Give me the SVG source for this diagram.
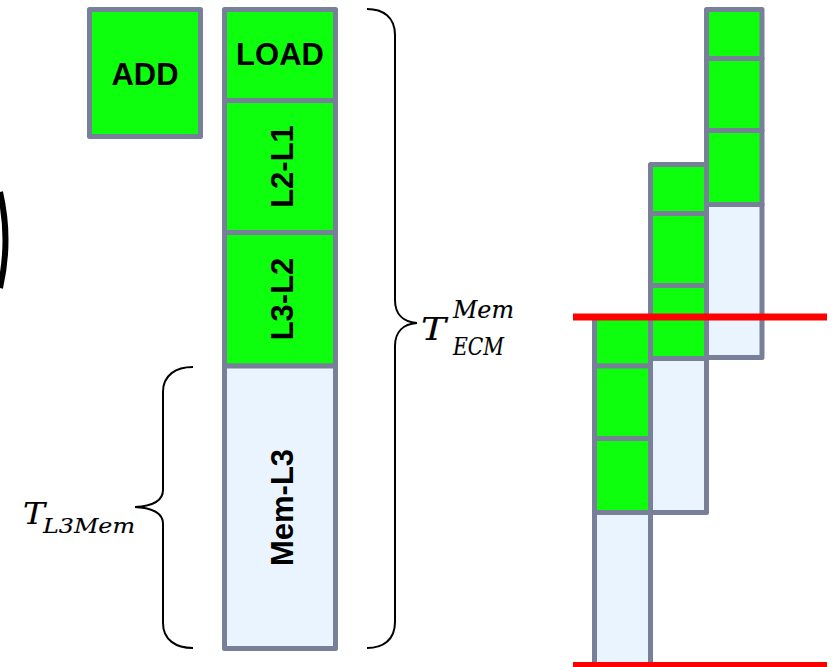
<svg xmlns="http://www.w3.org/2000/svg" width="837" height="667" viewBox="0 0 837 667">
<style>
.g{fill:#0EFF0E;stroke:#787F99;stroke-width:5;stroke-linejoin:round}
.b{fill:#EAF4FE;stroke:#787F99;stroke-width:5;stroke-linejoin:round}
.lbl{font-family:"Liberation Sans",Arial,sans-serif;font-weight:bold;font-size:31px;fill:#000;text-anchor:middle}
.brace{fill:none;stroke:#000;stroke-width:2}
.red{stroke:#FF0000;fill:none}
.math{font-family:"DejaVu Serif",serif;font-style:italic;fill:#000;stroke:#000;stroke-width:0.15}
</style>
<rect width="837" height="667" fill="#fff"/>
<path d="M0,192 Q11,240 0,288" fill="none" stroke="#000" stroke-width="6"/>
<g id="add"><rect class="g" x="89.5" y="9.5" width="111" height="127"/><text class="lbl" x="145" y="85">ADD</text></g>
<g id="load"><rect class="g" x="224.5" y="9.5" width="111" height="91"/><text class="lbl" x="280" y="65">LOAD</text></g>
<g id="l2l1"><rect class="g" x="224.5" y="100.5" width="111" height="132"/><text class="lbl" transform="translate(292.5,166.5) rotate(-90)">L2-L1</text></g>
<g id="l3l2"><rect class="g" x="224.5" y="232.5" width="111" height="133.5"/><text class="lbl" transform="translate(292.5,299) rotate(-90)">L3-L2</text></g>
<g id="meml3"><rect class="b" x="224.5" y="366" width="111" height="282.5"/><text class="lbl" transform="translate(292.5,507.5) rotate(-90)">Mem-L3</text></g>
<g id="col3">
<rect class="g" x="706.5" y="9.5" width="55.5" height="49"/>
<rect class="g" x="706.5" y="58.5" width="55.5" height="72"/>
<rect class="g" x="706.5" y="130.5" width="55.5" height="74"/>
<rect class="b" x="706.5" y="204.5" width="55.5" height="153"/>
</g>
<g id="col2">
<rect class="g" x="650.5" y="164.5" width="56" height="49"/>
<rect class="g" x="650.5" y="213.5" width="56" height="72"/>
<rect class="g" x="650.5" y="285.5" width="56" height="73"/>
<rect class="b" x="650.5" y="358.5" width="56" height="154"/>
</g>
<g id="col1">
<rect class="g" x="594.5" y="317" width="56" height="49"/>
<rect class="g" x="594.5" y="366" width="56" height="72.5"/>
<rect class="g" x="594.5" y="438.5" width="56" height="74"/>
<rect class="b" x="594.5" y="512.5" width="56" height="156"/>
</g>
<g id="connectors">
<path class="brace" d="M367,9 C383,9 395,17 395,35 L395,300 C395,314 403,322 417,323 C403,324 395,332 395,346 L395,622 C395,640 383,648 367,648"/>
<path class="brace" d="M193,367 C176,367 163,375 163,392 L163,490 C163,500 155,506 135,507 C155,508 163,514 163,524 L163,623 C163,640 176,648 193,648"/>
<line class="red" x1="573" y1="317" x2="827" y2="317" stroke-width="7"/>
<line class="red" x1="573" y1="664.5" x2="827" y2="664.5" stroke-width="5"/>
</g>
<g id="t-ecm">
<text class="math" x="421" y="340" font-size="31" textLength="25" lengthAdjust="spacingAndGlyphs">T</text>
<text class="math" x="453" y="318" font-size="24" textLength="61" lengthAdjust="spacingAndGlyphs">Mem</text>
<text class="math" x="453" y="355" font-size="24" textLength="51" lengthAdjust="spacingAndGlyphs">ECM</text>
</g>
<g id="t-l3mem">
<text class="math" x="23" y="524" font-size="30" textLength="22" lengthAdjust="spacingAndGlyphs">T</text>
<text class="math" x="43" y="533" font-size="21" textLength="92" lengthAdjust="spacingAndGlyphs">L3Mem</text>
</g>
</svg>
